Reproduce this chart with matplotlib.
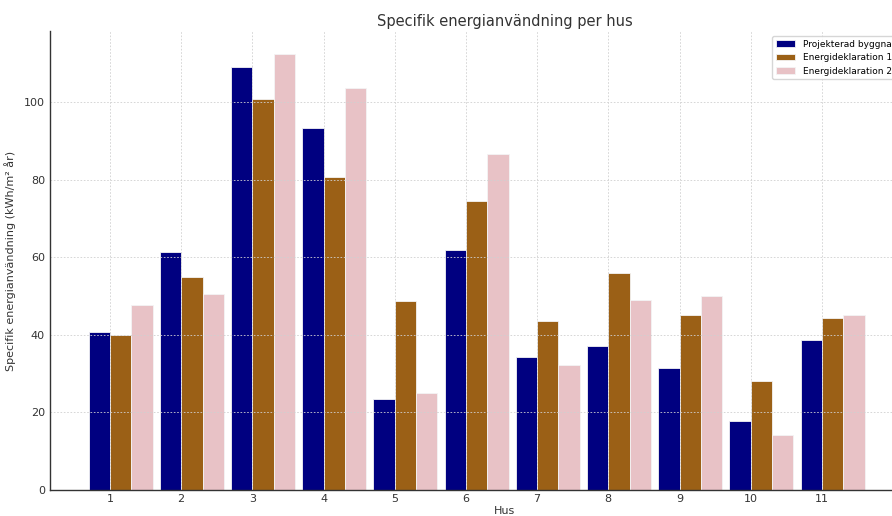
import matplotlib
matplotlib.use('Agg')
import matplotlib.pyplot as plt
import numpy as np

# Data
houses = ['1', '2', '3', '4', '5', '6', '7', '8', '9', '10', '11']
projekterad = [40.6, 61.3, 108.9, 93.4, 23.5, 61.9, 34.2, 37.0, 31.4, 17.8, 38.7]
deklaration_1 = [40.0, 54.8, 100.9, 80.6, 48.6, 74.5, 43.5, 55.8, 45.2, 28.2, 44.4]
deklaration_2 = [47.7, 50.5, 112.5, 103.5, 25.0, 86.6, 32.1, 49.0, 49.9, 14.2, 45.1]

series_labels = ['Projekterad byggnadsenergi', 'Energideklaration 1', 'Energideklaration 2']
colors = ['#000080', '#9b6016', '#e8c2c6']

text_color = '#333333'
plt.rcParams['font.family'] = ['DejaVu Sans']

fig = plt.figure(figsize=(8.92, 5.16), dpi=100)
# axes runs past the right edge of the figure, as in the reference
ax = fig.add_axes([49.8 / 892, 26 / 516, (960 - 49.8) / 892, (490 - 31) / 516])

x = np.arange(1, len(houses) + 1)
width = 0.3
for i, (vals, lab, col) in enumerate(zip([projekterad, deklaration_1, deklaration_2],
                                         series_labels, colors)):
    ax.bar(x + (i - 0.5) * width, vals, width, label=lab, color=col,
           edgecolor='#f4f4f4', linewidth=0.6)

ax.set_xlim(0.155, 12.94)
ax.set_ylim(0, 118.3)
ax.set_xticks(x)
ax.set_xticklabels(houses)
ax.set_yticks([0, 20, 40, 60, 80, 100])
ax.tick_params(length=0, labelsize=8, colors=text_color)
ax.tick_params(axis='x', pad=3)
ax.tick_params(axis='y', pad=3.5)

ax.grid(True, linestyle='--', linewidth=0.6, color='#d0d0d0', dashes=(2, 2))
for side in ['top', 'right']:
    ax.spines[side].set_visible(False)
for side in ['left', 'bottom']:
    ax.spines[side].set_color('#333333')
    ax.spines[side].set_linewidth(1.0)

ax.set_title('Specifik energianvändning per hus', fontsize=10.5, color=text_color, pad=3.5)
ax.set_xlabel('Hus', fontsize=8, color=text_color, labelpad=1)
ax.set_ylabel('Specifik energianvändning (kWh/m² år)', fontsize=8, color=text_color,
              labelpad=6)

ax.legend(loc='upper left', bbox_to_anchor=(772 / 892, 1 - 36 / 516),
          bbox_transform=fig.transFigure, fontsize=6.5, frameon=True,
          borderaxespad=0, handlelength=2.2)

plt.savefig('out.png', dpi=100)
plt.close()
